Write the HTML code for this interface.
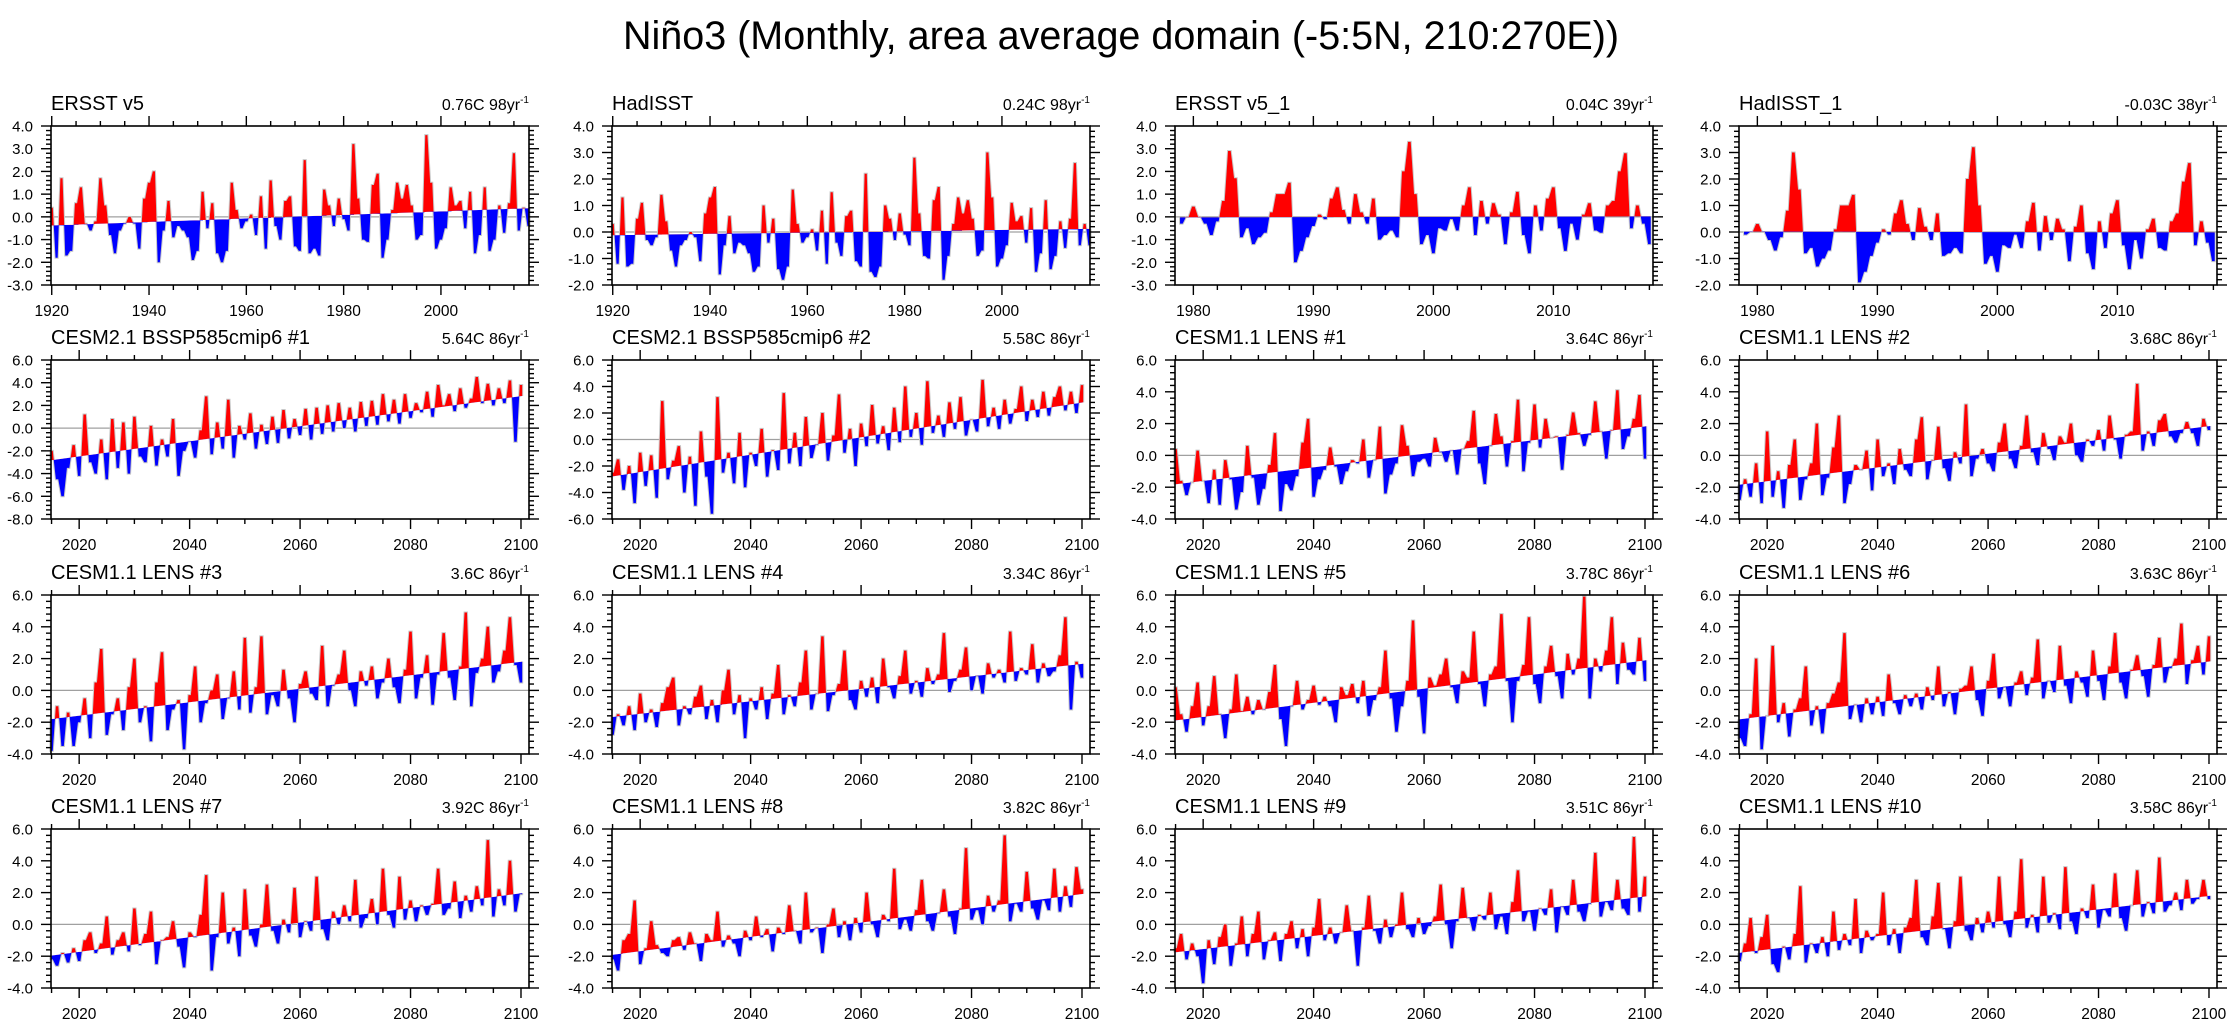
<!DOCTYPE html>
<html><head><meta charset="utf-8"><title>Niño3 monthly</title>
<style>
html,body{margin:0;padding:0;background:#fff;}
svg{display:block;font-family:"Liberation Sans",Arial,sans-serif;}
</style></head>
<body>
<svg id="fig" width="2236" height="1027" viewBox="0 0 2236 1027" xmlns="http://www.w3.org/2000/svg">
<rect width="2236" height="1027" fill="#fff"/>
<text x="1121" y="49" font-size="39.5" text-anchor="middle" fill="#000">Niño3 (Monthly, area average domain (-5:5N, 210:270E))</text>
</svg>
<script>
// ---- data (values in degC) ----
const panelTitles = ["ERSST v5","HadISST","ERSST v5_1","HadISST_1",
 "CESM2.1 BSSP585cmip6 #1","CESM2.1 BSSP585cmip6 #2","CESM1.1 LENS #1","CESM1.1 LENS #2",
 "CESM1.1 LENS #3","CESM1.1 LENS #4","CESM1.1 LENS #5","CESM1.1 LENS #6",
 "CESM1.1 LENS #7","CESM1.1 LENS #8","CESM1.1 LENS #9","CESM1.1 LENS #10"];
const trendTotals = [0.76,0.24,0.04,-0.03,5.64,5.58,3.64,3.68,3.6,3.34,3.78,3.63,3.92,3.82,3.51,3.58];
const trendLabels = ["0.76C 98yr","0.24C 98yr","0.04C 39yr","-0.03C 38yr","5.64C 86yr","5.58C 86yr","3.64C 86yr","3.68C 86yr","3.6C 86yr","3.34C 86yr","3.78C 86yr","3.63C 86yr","3.92C 86yr","3.82C 86yr","3.51C 86yr","3.58C 86yr"];
const yMins = [-3,-2,-3,-2,-8,-6,-4,-4,-4,-4,-4,-4,-4,-4,-4,-4];
const yMaxs = [4,4,4,4,6,6,6,6,6,6,6,6,6,6,6,6];
const seriesStart = [1920,1920,1979,1979,2015,2015,2015,2015,2015,2015,2015,2015,2015,2015,2015,2015];
const seriesStep = [1,1,0.5,0.5,1,1,1,1,1,1,1,1,1,1,1,1];

const ersst = [0.4,-1.8,1.7,-1.7,-1.5,0.6,1.3,-0.3,-0.6,-0.2,1.7,0.5,-0.8,-1.6,-0.6,-0.3,0.0,-0.3,-1.4,0.8,1.5,2.0,-2.0,-0.6,0.7,-0.9,-0.4,-0.6,-0.9,-1.9,-1.5,1.1,-0.5,0.6,-1.6,-2.0,-1.5,1.5,0.3,-0.5,-0.2,0.1,-0.8,0.9,-1.4,1.6,-0.4,-1.0,0.7,0.9,-1.3,-1.5,2.5,-1.6,-1.4,-1.7,1.2,0.5,-0.4,0.8,-0.1,-0.6,3.2,0.8,-1.0,-1.1,1.4,1.9,-1.8,-1.0,0.3,1.5,0.8,1.4,0.5,-1.0,-0.8,3.6,1.5,-1.4,-1.0,-0.5,1.3,0.5,0.7,-0.5,1.1,-1.6,-0.8,1.3,-1.5,-1.0,0.5,-0.7,0.6,2.8,-0.6,0.4,-0.4];
const hadisst = [0.3,-1.2,1.3,-1.3,-1.2,0.5,1.1,-0.3,-0.5,-0.2,1.4,0.4,-0.7,-1.3,-0.5,-0.3,0.0,-0.2,-1.1,0.7,1.3,1.7,-1.6,-0.5,0.6,-0.8,-0.4,-0.5,-0.8,-1.5,-1.3,1.0,-0.4,0.5,-1.4,-1.8,-1.3,1.6,0.3,-0.4,-0.2,0.1,-0.7,0.8,-1.2,1.5,-0.4,-0.9,0.6,0.8,-1.1,-1.3,2.2,-1.5,-1.7,-1.3,1.0,0.5,-0.3,0.7,-0.1,-0.5,2.8,0.7,-0.9,-1.0,1.2,1.7,-1.8,-0.9,0.3,1.3,0.7,1.2,0.5,-0.9,-0.7,3.0,1.3,-1.3,-1.0,-0.5,1.1,0.4,0.6,-0.4,0.9,-1.5,-0.8,1.2,-1.4,-0.9,0.4,-0.6,0.5,2.6,-0.5,0.3,-0.5];
const ersst1 = [-0.3,0.0,0.45,0.0,-0.3,-0.8,-0.2,0.7,2.9,1.7,-0.9,-0.5,-1.2,-0.9,-0.7,0.2,1.0,1.0,1.5,-2.0,-1.5,-0.9,-0.4,0.1,-0.1,0.8,1.3,0.3,-0.3,1.0,0.2,-0.3,0.8,-1.0,-0.8,-0.6,-0.9,2.0,3.3,1.0,-1.2,-0.8,-1.6,-0.5,-0.6,-0.1,-0.6,0.5,1.3,-0.8,0.7,-0.3,0.6,0.1,-1.2,0.2,1.1,-0.8,-1.6,0.5,-0.6,0.8,1.3,-0.5,-1.5,-0.3,-1.0,0.1,0.6,-0.6,-0.7,0.5,0.7,2.0,2.8,-0.5,0.5,-0.3,-1.2];
const hadisst1 = [-0.1,0.0,0.3,0.0,-0.3,-0.7,-0.2,0.8,3.0,1.6,-0.8,-0.6,-1.3,-1.0,-0.7,0.1,1.0,1.0,1.4,-1.9,-1.5,-0.9,-0.4,0.1,-0.1,0.7,1.2,0.3,-0.3,0.9,0.2,-0.3,0.7,-0.9,-0.8,-0.6,-0.8,2.0,3.2,1.0,-1.2,-0.9,-1.5,-0.5,-0.6,-0.1,-0.6,0.4,1.1,-0.7,0.6,-0.3,0.5,0.1,-1.1,0.2,1.0,-0.8,-1.4,0.4,-0.6,0.7,1.2,-0.5,-1.4,-0.3,-1.0,0.1,0.5,-0.6,-0.7,0.4,0.7,1.9,2.6,-0.5,0.4,-0.4,-1.1];
const cesm2a = [-2.0,-4.5,-6.0,-3.5,-1.5,-4.2,1.2,-3.0,-4.0,-1.0,-4.5,0.8,-3.5,0.5,-4.0,1.0,-2.5,-3.0,0.2,-3.3,-1.0,-2.5,0.8,-4.2,-2.0,-1.2,-2.6,-0.2,2.8,-2.3,0.5,-1.8,2.5,-2.6,0.2,-1.0,1.3,-1.8,0.3,-1.4,1.0,-1.3,1.6,-0.9,0.8,-0.6,1.7,-1.0,1.8,-0.5,2.0,-0.3,2.2,0.0,1.8,-0.3,2.3,0.2,2.4,0.3,3.0,0.6,2.5,0.4,3.0,0.9,2.2,1.4,3.2,1.0,3.8,2.0,3.0,1.5,3.5,1.8,2.6,4.5,2.2,3.9,2.0,3.5,2.2,4.2,-1.2,3.8];
const cesm2b = [-2.5,-1.5,-3.8,-2.0,-4.8,-1.0,-3.5,-1.2,-4.4,2.9,-3.0,-1.6,-0.5,-4.0,-1.3,-5.0,0.6,-2.8,-5.6,3.2,-2.5,-1.0,-3.3,0.5,-3.6,-1.0,-2.0,0.8,-2.8,-0.8,-2.3,3.5,-1.8,0.5,-2.0,1.7,-1.4,-0.4,2.0,-1.6,0.3,3.4,-1.0,0.8,-2.0,1.2,-0.5,2.6,-0.3,1.0,-0.8,2.4,-0.2,4.0,0.2,2.0,-0.4,4.4,0.5,1.8,0.2,2.8,0.8,3.2,0.3,1.5,0.6,4.5,1.0,2.4,0.8,3.0,1.2,2.3,4.0,1.4,3.0,1.7,3.6,1.8,3.2,4.0,2.2,3.6,2.0,4.1];
const lens1 = [0.4,-1.6,-2.5,-1.7,0.3,-1.6,-3.0,-0.9,-3.1,-0.3,-1.5,-3.4,-2.3,0.6,-1.4,-3.1,-2.1,-0.6,1.4,-3.5,-1.8,-2.2,-1.3,0.8,2.3,-2.6,-1.5,-0.9,0.5,-0.7,-1.8,-1.0,-0.3,-0.5,1.0,-1.4,-0.3,1.8,-2.4,-1.2,-0.5,1.9,0.6,-1.3,-0.4,-0.2,-0.7,1.1,0.2,-0.4,0.3,-1.2,0.4,0.9,2.8,-0.5,-1.8,0.6,2.6,1.2,-0.7,0.9,3.5,-1.0,0.8,3.2,0.5,2.3,1.1,1.2,-0.9,1.3,2.7,1.4,0.6,1.3,3.4,1.5,-0.2,1.6,4.1,0.4,1.2,2.3,3.8,-0.2];
const lens2 = [-2.8,-1.5,-2.6,-0.5,-3.0,1.5,-2.6,-1.0,-3.3,-0.6,1.0,-2.8,-1.5,-0.5,2.0,-2.5,-1.4,0.5,2.5,-3.0,-1.8,-0.6,-0.9,0.3,-2.2,1.0,-1.3,-0.5,-1.8,0.4,-0.9,-1.3,1.0,2.4,-1.5,-0.3,1.8,-0.8,-1.6,0.2,-0.5,3.2,-1.3,-0.2,0.4,-0.5,-1.0,0.8,2.0,-0.2,-0.8,0.6,2.5,0.2,-0.6,1.4,0.4,-0.3,1.2,0.8,2.0,0.0,-0.4,1.0,0.6,1.6,0.3,2.5,1.0,-0.2,1.3,1.5,4.5,0.3,1.5,0.6,2.2,2.6,1.2,0.8,1.4,2.1,1.4,0.6,2.3,1.6];
const lens3 = [-3.8,-1.0,-3.5,-1.4,-3.5,-2.0,-0.5,-3.0,0.5,2.6,-2.8,-1.5,-0.5,-2.5,0.2,2.0,-2.0,-1.0,-3.2,0.5,2.4,-2.5,-1.2,-0.6,-3.7,-0.3,1.5,-2.0,-0.8,0.0,1.0,-1.8,-0.5,1.2,-1.2,3.3,-1.4,0.2,3.4,-1.5,-0.3,-1.0,1.3,-0.5,-2.0,0.4,1.2,-0.2,-0.6,2.8,-1.0,0.3,1.0,2.5,0.0,-1.0,1.2,0.3,1.5,-0.5,0.5,2.0,0.2,-0.8,1.3,3.7,-0.5,0.8,2.2,-0.9,1.0,3.6,0.8,-0.6,1.5,4.9,-1.0,1.1,2.0,4.0,0.5,1.2,2.5,4.6,1.6,0.5];
const lens4 = [-2.8,-1.5,-2.2,-1.0,-2.5,-0.2,-2.0,-1.2,-2.3,-0.8,0.2,0.8,-2.2,-1.0,-1.5,-0.4,0.3,-1.8,-0.6,-2.0,0.0,1.3,-1.5,-0.3,-3.0,-0.5,-1.2,0.2,-1.8,-0.2,1.6,-1.5,-0.3,-1.0,0.5,2.5,-1.2,-0.2,3.4,-1.3,-0.3,0.4,2.5,-0.6,-1.2,0.6,-0.4,0.8,-0.8,2.0,0.2,-0.5,0.9,2.5,-0.2,0.6,-0.4,1.4,0.4,1.0,3.6,-0.1,0.6,1.3,2.7,0.0,0.9,-0.2,1.7,0.8,1.3,0.5,3.7,0.6,1.4,1.0,2.9,0.5,1.7,0.9,1.2,2.2,4.6,-1.2,1.8,0.8];
const lens5 = [0.2,-1.5,-2.6,-1.0,0.5,-2.2,-1.0,0.9,-1.5,-3.0,-1.2,1.0,-1.3,-0.4,-1.5,-0.6,-1.2,-0.1,1.6,-1.8,-3.5,-1.0,0.6,-1.2,-0.6,0.3,-0.9,-0.4,-1.0,-2.0,0.2,-0.3,0.4,-0.8,0.6,-1.6,-0.6,0.2,2.5,-0.5,-2.6,-1.0,0.6,4.4,-0.4,-2.7,0.8,0.3,1.0,2.0,0.2,-0.8,1.2,0.8,3.7,0.4,-1.0,1.0,1.5,4.8,0.6,-2.0,0.6,1.6,4.6,0.4,-0.8,1.5,2.8,0.9,-0.5,2.3,1.0,2.0,5.9,-0.5,2.0,1.2,2.5,4.6,0.4,3.0,1.3,1.0,3.3,0.6];
const lens6 = [-3.0,-3.5,-1.5,2.0,-3.7,-1.6,2.8,-2.0,-0.8,-2.9,-1.2,-0.5,1.5,-2.2,-1.0,-2.7,-0.8,-0.2,0.5,3.6,-1.8,-0.9,-2.0,-0.5,-1.5,-0.4,-1.6,1.0,-0.8,-1.5,-0.3,-1.0,-0.2,-1.2,0.2,-0.6,1.5,-1.0,-0.1,-1.5,0.1,0.3,1.5,-0.6,-1.6,0.6,2.3,-0.5,0.2,-1.0,0.5,1.2,-0.3,0.8,3.2,-0.5,0.6,-0.1,2.8,0.3,-0.8,1.2,0.5,-0.4,2.5,0.6,-0.6,1.5,3.6,0.5,-0.5,1.3,2.2,0.9,-0.4,1.6,3.3,0.5,1.4,2.0,4.2,0.4,1.9,2.8,1.0,3.4];
const lens7 = [-2.2,-2.6,-1.8,-2.4,-1.5,-2.3,-1.0,-0.5,-1.8,-1.2,0.5,-1.9,-1.0,-0.5,-1.7,1.0,-1.3,-0.6,0.8,-2.5,-1.0,-0.8,0.2,-1.4,-2.7,-0.5,-0.8,0.6,3.1,-2.9,-0.8,2.0,-1.2,-0.2,-2.0,2.2,-0.7,-1.4,0.0,2.5,-0.4,-1.2,0.3,-0.5,2.3,-0.8,0.2,-0.4,3.0,-0.3,-1.0,0.8,0.0,1.2,0.2,2.8,-0.2,0.4,1.6,0.0,3.5,0.6,-0.2,3.0,0.3,1.5,0.2,1.2,0.6,1.3,3.5,0.6,1.0,2.7,0.4,1.8,0.8,2.4,1.2,5.3,0.5,2.2,1.2,4.0,0.8,1.9];
const lens8 = [-2.2,-2.9,-1.0,-0.6,1.5,-2.5,-1.5,0.2,-1.3,-1.8,-2.0,-1.0,-0.8,-1.6,-0.5,-1.2,-2.3,-0.6,-1.0,0.8,-1.4,-0.7,-1.2,-2.0,-0.4,-1.0,0.5,-0.8,-0.3,-1.7,-0.2,-0.6,1.2,-0.4,-1.2,2.0,-0.5,-0.2,-1.8,0.0,1.0,-0.8,0.2,-1.0,0.4,-0.5,2.0,0.0,-0.8,0.6,0.2,3.5,-0.3,0.3,-0.4,0.9,2.8,0.2,-0.4,0.7,2.2,0.5,-0.6,1.0,4.8,0.3,0.9,0.0,1.8,0.8,1.5,5.6,0.2,1.3,0.8,3.3,1.0,0.3,1.5,0.9,3.5,0.8,2.4,1.1,3.6,2.2];
const lens9 = [-1.5,-0.6,-2.2,-1.2,-2.0,-3.7,-1.0,-2.5,-0.8,0.0,-2.6,-1.2,0.5,-2.0,-0.6,0.8,-2.2,-1.0,-0.5,-2.3,-0.6,0.2,-1.5,-0.3,-2.0,-0.2,1.6,-1.0,-0.2,-1.2,-0.5,1.2,-0.4,-2.6,-0.2,1.8,-0.4,-1.2,0.3,-0.8,0.0,2.0,-0.3,-0.8,0.4,-0.6,-0.1,0.5,2.5,0.0,-1.5,0.2,2.3,0.4,-0.4,0.6,0.3,2.0,-0.3,0.5,-0.6,1.4,3.4,0.2,0.8,-0.4,1.0,0.6,2.2,-0.5,1.1,0.6,2.8,0.8,0.2,1.3,4.5,0.5,1.4,0.9,2.8,1.0,0.6,5.5,0.8,3.0];
const lens10 = [-2.3,-1.2,0.4,-1.8,-0.8,0.6,-2.5,-3.0,-1.4,-2.2,-0.6,2.4,-2.4,-1.2,-1.8,-0.8,-2.0,0.8,-1.6,-0.6,-1.3,1.6,-1.8,-0.4,-1.0,-0.6,2.0,-1.3,-0.3,-1.8,-0.2,0.4,2.8,-0.8,-1.3,0.5,2.6,-0.3,-1.5,0.2,3.0,-0.4,-1.0,0.4,-0.5,0.8,-0.2,3.0,0.0,-0.8,0.8,4.1,-0.2,0.6,-0.5,3.0,0.1,0.7,-0.3,3.6,0.2,-0.6,1.0,0.4,2.5,-0.2,0.9,0.5,3.2,0.4,-0.4,1.2,3.4,0.5,1.4,0.7,4.2,0.8,1.2,2.0,0.9,2.8,1.3,1.6,2.8,1.6];

const allSeries = [ersst,hadisst,ersst1,hadisst1,cesm2a,cesm2b,lens1,lens2,lens3,lens4,lens5,lens6,lens7,lens8,lens9,lens10];

// ---- layout (not data) ----
const colLeft = [51,612,1175,1739];
const rowTop = [126,360,595,829];
const PW = 478, PH = 159;
const NS = "http://www.w3.org/2000/svg";
const svg = document.getElementById('fig');

function mk(tag, attrs, parent){
  const e = document.createElementNS(NS, tag);
  for (const k in attrs) e.setAttribute(k, attrs[k]);
  (parent||svg).appendChild(e);
  return e;
}

function axisCfg(i){
  if (i<2) return {x0:1919.85,x1:2018.1,maj:[1920,1940,1960,1980,2000],minStart:1920,minStep:5,minEnd:2018};
  if (i<4) return {x0:1978.47,x1:2018.3,maj:[1980,1990,2000,2010],minStart:1980,minStep:2,minEnd:2018};
  return {x0:2014.9,x1:2101.45,maj:[2020,2040,2060,2080,2100],minStart:2015,minStep:5,minEnd:2101};
}

for (let i=0;i<16;i++){
  const L = colLeft[i%4], T = rowTop[Math.floor(i/4)];
  const ax = axisCfg(i);
  const y0 = yMins[i], y1 = yMaxs[i];
  const xs = v => L + (v-ax.x0)/(ax.x1-ax.x0)*PW;
  const ys = v => T + PH - (v-y0)/(y1-y0)*PH;
  const data = allSeries[i];
  const t0 = seriesStart[i], st = seriesStep[i];
  const tEnd = t0 + st*(data.length-1);
  const mid = (t0+tEnd)/2, span = tEnd - t0;
  const ref = t => trendTotals[i]*((t-mid)/span);

  const g = mk('g', {});
  
  

  const defs = mk('defs', {}, g);
  const cpA = mk('clipPath', {id:'ca'+i}, defs);
  mk('polygon', {points:`${L},${T} ${L+PW},${T} ${L+PW},${ys(ref(ax.x1))} ${L},${ys(ref(ax.x0))}`}, cpA);
  const cpB = mk('clipPath', {id:'cb'+i}, defs);
  mk('polygon', {points:`${L},${ys(ref(ax.x0))} ${L+PW},${ys(ref(ax.x1))} ${L+PW},${T+PH} ${L},${T+PH}`}, cpB);

  const zl = mk('line', {x1:L, x2:L+PW, y1:ys(0), y2:ys(0), stroke:'#a0a0a0', 'stroke-width':1.2}, g);
  
  

  // area polygon: each value held briefly around its time (plateau) for a fuller fill
  const hw = st*0.22;
  let pts = [`${xs(t0-hw)},${ys(ref(t0-hw))}`];
  data.forEach((v,k)=>{ const t=t0+st*k; pts.push(`${xs(t-hw)},${ys(v)}`); pts.push(`${xs(t+hw)},${ys(v)}`); });
  pts.push(`${xs(tEnd+hw)},${ys(ref(tEnd+hw))}`);
  const ptStr = pts.join(' ');

  const outline = mk('polyline', {points:ptStr, fill:'none', stroke:'#c8c8c8', 'stroke-width':2}, g);
  
  
  const red = mk('polygon', {points:ptStr, fill:'#ff0000', 'clip-path':`url(#ca${i})`}, g);
  
  
  const blue = mk('polygon', {points:ptStr, fill:'#0000ff', 'clip-path':`url(#cb${i})`}, g);
  
  

  const fr = mk('rect', {x:L, y:T, width:PW, height:PH, fill:'none', stroke:'#000', 'stroke-width':1.6}, g);
  
  

  const ystep = (y1-y0) > 8 ? 2 : 1;
  const ticks = mk('g', {stroke:'#000', 'stroke-width':1.4}, g);
  
  
  for (let m=0; m <= Math.round((y1-y0)/ystep*5); m++){
    const v = y0 + m*ystep/5;
    const yy = ys(v);
    const major = (m%5===0);
    const len = major ? 10 : 5;
    mk('line', {x1:L-len, x2:L, y1:yy, y2:yy}, ticks);
    mk('line', {x1:L+PW, x2:L+PW+len, y1:yy, y2:yy}, ticks);
    if (major){
      const tl = mk('text', {x:L-18, y:yy+5.5, 'font-size':15, 'text-anchor':'end', fill:'#000', stroke:'none'}, g);
      
      
      tl.textContent = v.toFixed(1);
    }
  }
  for (let t=ax.minStart; t<=ax.minEnd; t+=ax.minStep){
    const xx = xs(t);
    if (xx < L-0.5 || xx > L+PW+0.5) continue;
    const major = ax.maj.includes(t);
    const len = major ? 10 : 5;
    mk('line', {x1:xx, x2:xx, y1:T+PH, y2:T+PH+len}, ticks);
    mk('line', {x1:xx, x2:xx, y1:T-len, y2:T}, ticks);
  }
  ax.maj.forEach(t=>{
    const xl = mk('text', {x:xs(t), y:T+PH+31, 'font-size':15.5, 'text-anchor':'middle', fill:'#000'}, g);
    
    
    xl.textContent = String(t);
  });

  const tt = mk('text', {x:L, y:T-16, 'font-size':20, fill:'#000'}, g);
  
  
  tt.textContent = panelTitles[i];
  const rl = mk('text', {x:L+PW, y:T-16, 'font-size':16, 'text-anchor':'end', fill:'#000'}, g);
  
  
  const s1 = mk('tspan', {}, rl); s1.textContent = trendLabels[i];
  const s2 = mk('tspan', {dy:-7, 'font-size':10}, rl); s2.textContent = '-1';
}
</script>
</body></html>
